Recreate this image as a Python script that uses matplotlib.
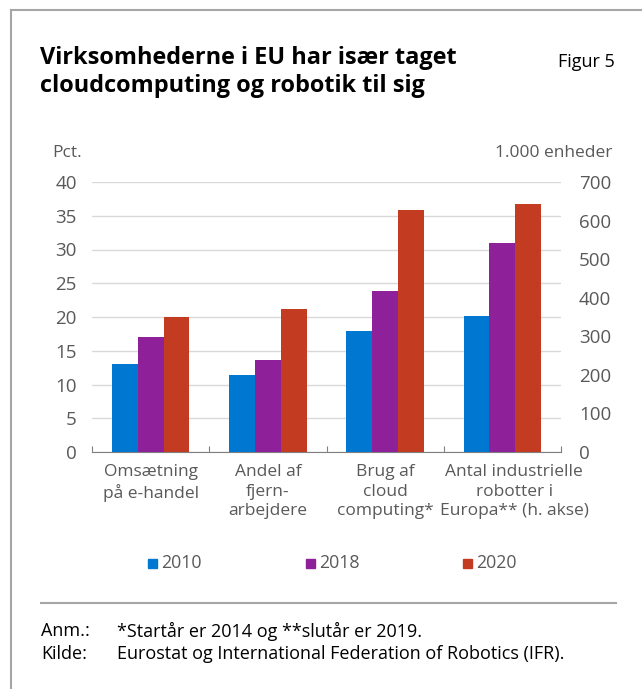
import numpy as np
import matplotlib.pyplot as plt
from matplotlib.lines import Line2D
from matplotlib.patches import Rectangle

plt.rcParams['font.family'] = ['Open Sans', 'DejaVu Sans']

categories = ["Omsætning\npå e-handel", "Andel af\nfjern-\narbejdere",
              "Brug af\ncloud\ncomputing*", "Antal industrielle\nrobotter i\nEuropa** (h. akse)"]
years = ["2010", "2018", "2020"]
# first three groups in pct. (left axis)
pct_2010 = [13.0, 11.4, 17.9]
pct_2018 = [17.0, 13.7, 23.9]
pct_2020 = [20.0, 21.2, 35.9]
# robots, 1.000 units (right axis)
robots = [352, 543, 644]

colors = ["#0078D2", "#8E2199", "#C33C21"]
gray = "#595959"

W, H = 642, 689
fig = plt.figure(figsize=(W / 100, H / 100), dpi=100)

def fx(px):
    return px / W

def fy(py):
    return 1 - py / H

# frame
fig.add_artist(Line2D([fx(11), fx(11)], [fy(10), 0], color="#A6A6A6", lw=1.5))
fig.add_artist(Line2D([fx(11), 1], [fy(10), fy(10)], color="#A6A6A6", lw=1.5))

fig.text(fx(40), fy(72), "Virksomhederne i EU har især taget\ncloudcomputing og robotik til sig",
         fontsize=16.9, fontweight="bold", va="center", ha="left", linespacing=1.22)
fig.text(fx(615), fy(62), "Figur 5", fontsize=13, ha="right", va="center")

ax = fig.add_axes([fx(92), fy(452), fx(561) - fx(92), fy(182) - fy(452)])
ax2 = ax.twinx()

x = np.arange(len(categories))
bw = 0.22
pct = [pct_2010, pct_2018, pct_2020]
for i in range(3):
    ax.bar(x[:3] + (i - 1) * bw, pct[i], bw, color=colors[i], zorder=3)
    ax2.bar(x[3] + (i - 1) * bw, robots[i], bw, color=colors[i], zorder=3)

ax.set_xlim(-0.5, 3.5)
ax.set_ylim(0, 40)
ax2.set_ylim(0, 700)
ax.set_yticks(np.arange(0, 41, 5))
ax2.set_yticks(np.arange(0, 701, 100))
ax.yaxis.grid(True, color="#D9D9D9", lw=1, zorder=0)
ax.set_axisbelow(True)

for a in (ax, ax2):
    for s in ["top", "left", "right"]:
        a.spines[s].set_visible(False)
    a.spines["bottom"].set_color("#7F7F7F")
    a.tick_params(axis="y", length=0, labelsize=13.5, labelcolor=gray)
ax.tick_params(axis="y", pad=11)
ax2.tick_params(axis="y", pad=13)
ax2.spines["bottom"].set_visible(False)

ax.set_xticks(np.arange(-0.5, 3.6, 1))
ax.set_xticklabels([])
ax.tick_params(axis="x", direction="in", length=4, color="#7F7F7F")
label_shift = [0, 0, 0, 0.1]
for i, c in enumerate(categories):
    ax.text(i + label_shift[i], -0.045, c, transform=ax.get_xaxis_transform(), ha="center", va="top",
            fontsize=12.5, color=gray, linespacing=1.28)

fig.text(fx(52), fy(153), "Pct.", fontsize=12.5, color=gray, va="center", ha="left")
fig.text(fx(612), fy(153), "1.000 enheder", fontsize=12.5, color=gray, va="center", ha="right")

# legend
leg_x = [148, 306, 463]
for i, yr in enumerate(years):
    fig.add_artist(Rectangle((fx(leg_x[i]), fy(568)), fx(9), fy(559) - fy(568),
                             color=colors[i], transform=fig.transFigure))
    fig.text(fx(leg_x[i] + 13), fy(563), yr, fontsize=12.8, color=gray, va="center", ha="left")

fig.add_artist(Line2D([fx(41), fx(616)], [fy(603), fy(603)], color="#A6A6A6", lw=1.5))
fig.text(fx(41), fy(631), "Anm.:", fontsize=13, va="center")
fig.text(fx(117), fy(631), "*Startår er 2014 og **slutår er 2019.", fontsize=13, va="center")
fig.text(fx(41), fy(654), "Kilde:", fontsize=13, va="center")
fig.text(fx(117), fy(654), "Eurostat og International Federation of Robotics (IFR).", fontsize=13, va="center")

fig.savefig("out.png", dpi=100)
